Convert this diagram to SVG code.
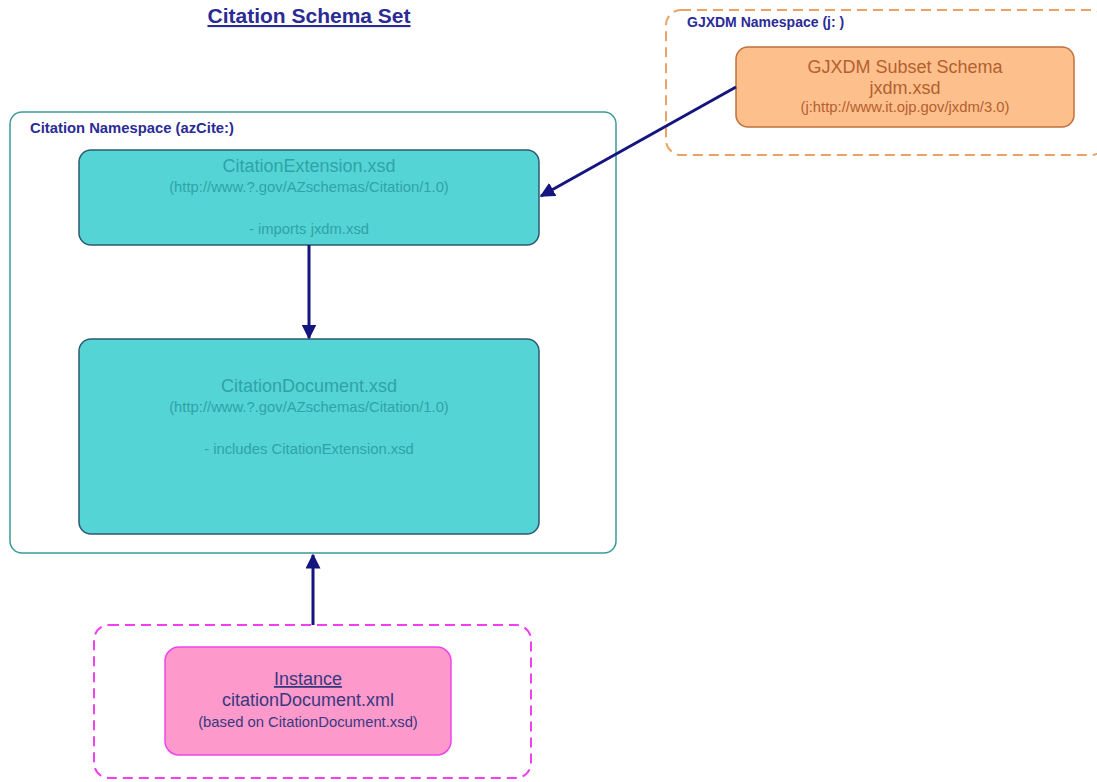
<svg xmlns="http://www.w3.org/2000/svg" width="1097" height="782" viewBox="0 0 1097 782">
<defs>
<style>
text{font-family:"Liberation Sans",Arial,sans-serif;}
.hdr{font-weight:bold;font-size:14.8px;fill:#2b2b96;}
.teal{fill:#2fa3a6;text-anchor:middle;}
.big{font-size:18px;}
.sm{font-size:14.8px;}
.node-teal{fill:#55d4d6;stroke:#2c5a72;stroke-width:1.5;}
.conn{stroke:#15157f;stroke-width:3;fill:none;marker-end:url(#ah);}
</style>
<marker id="ah" viewBox="0 0 10 10" refX="9" refY="5" markerWidth="5" markerHeight="5" orient="auto" markerUnits="strokeWidth">
<path d="M0,0 L10,5 L0,10 z" fill="#15157f"/>
</marker>
</defs>
<rect width="1097" height="782" fill="#ffffff"/>
<g id="title">
<text x="309" y="23" text-anchor="middle" font-size="21" font-weight="bold" fill="#2b2b96" text-decoration="underline">Citation Schema Set</text>
</g>
<g id="gjxdm-namespace">
<rect x="666" y="10" width="440" height="145" rx="15" fill="none" stroke="#e9a465" stroke-width="2" stroke-dasharray="10,6"/>
<text x="687" y="27" class="hdr" style="font-size:14px">GJXDM Namespace (j: )</text>
</g>
<g id="gjxdm-subset">
<rect x="736" y="47" width="338" height="80" rx="12" fill="#fdbf8c" stroke="#c0703c" stroke-width="1.5"/>
<text x="905" y="73" text-anchor="middle" class="big" fill="#b4602f">GJXDM Subset Schema</text>
<text x="905" y="94" text-anchor="middle" class="big" fill="#b4602f">jxdm.xsd</text>
<text x="905" y="112" text-anchor="middle" class="sm" fill="#b4602f">(j:http://www.it.ojp.gov/jxdm/3.0)</text>
</g>
<g id="citation-namespace">
<rect x="10" y="112" width="606" height="441" rx="12" fill="none" stroke="#3a9a9a" stroke-width="1.5"/>
<text x="30" y="133" class="hdr">Citation Namespace (azCite:)</text>
</g>
<g id="citation-extension">
<rect x="79" y="150" width="460" height="95" rx="12" class="node-teal"/>
<text x="309" y="172" class="teal big">CitationExtension.xsd</text>
<text x="309" y="192" class="teal sm">(http://www.?.gov/AZschemas/Citation/1.0)</text>
<text x="309" y="234" class="teal sm">- imports jxdm.xsd</text>
</g>
<g id="citation-document">
<rect x="79" y="339" width="460" height="195" rx="12" class="node-teal"/>
<text x="309" y="392" class="teal big">CitationDocument.xsd</text>
<text x="309" y="412" class="teal sm">(http://www.?.gov/AZschemas/Citation/1.0)</text>
<text x="309" y="454" class="teal sm">- includes CitationExtension.xsd</text>
</g>
<g id="instance-container">
<rect x="94" y="625" width="437" height="153" rx="15" fill="none" stroke="#f040f0" stroke-width="2" stroke-dasharray="10,6"/>
</g>
<g id="instance">
<rect x="165" y="647" width="286" height="108" rx="14" fill="#fd9acb" stroke="#ee44ee" stroke-width="1.5"/>
<text x="308" y="685" text-anchor="middle" class="big" fill="#38387e" text-decoration="underline">Instance</text>
<text x="308" y="706" text-anchor="middle" class="big" fill="#38387e">citationDocument.xml</text>
<text x="308" y="727" text-anchor="middle" class="sm" fill="#38387e">(based on CitationDocument.xsd)</text>
</g>
<g id="connectors">
<line x1="309" y1="245" x2="309" y2="338" class="conn"/>
<line x1="736" y1="87" x2="541" y2="196" class="conn"/>
<line x1="313" y1="625" x2="313" y2="555" class="conn"/>
</g>
</svg>
